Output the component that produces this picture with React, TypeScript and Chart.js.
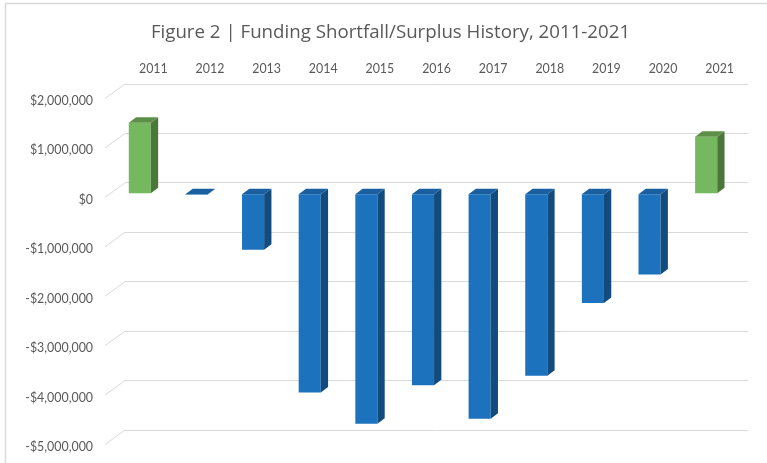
import React, { useEffect, useRef } from "react";
import { Chart, registerables } from "chart.js";

Chart.register(...registerables);

const years = ["2011", "2012", "2013", "2014", "2015", "2016", "2017", "2018", "2019", "2020", "2021"];
const shortfallSurplus = [1440000, -20000, -1130000, -4020000, -4650000, -3870000, -4550000, -3680000, -2210000, -1630000, 1155000];
const titleText = "Figure 2 | Funding Shortfall/Surplus History, 2011-2021";
const yMin = -5000000;
const yMax = 2000000;
const yStep = 1000000;

const GREEN = { front: "#76B85F", side: "#4B783A", top: "#5C8F47" };
const BLUE = { front: "#1C72BD", side: "#124B7E", top: "#1A5FA0" };

const FRONT_DX = -13.5;
const FRONT_DY = 11;
const DEPTH_DX = 7.3;
const DEPTH_DY = -5.5;

function fmtMoney(v: number): string {
  const abs = Math.abs(v).toLocaleString("en-US");
  return (v < 0 ? "-$" : "$") + abs;
}

const threeD = {
  id: "threeD",
  beforeDraw(chart: any) {
    const ctx = chart.ctx;
    ctx.save();
    ctx.strokeStyle = "#D9D9D9";
    ctx.lineWidth = 1.5;
    ctx.beginPath();
    ctx.moveTo(5.5, chart.height);
    ctx.lineTo(5.5, 3.5);
    ctx.lineTo(chart.width, 3.5);
    ctx.stroke();
    ctx.fillStyle = "#595959";
    ctx.font = '18.7px "Open Sans"';
    ctx.textAlign = "center";
    ctx.textBaseline = "alphabetic";
    ctx.fillText(titleText, 390.5, 37.5);
    ctx.restore();
  },
  beforeDatasetsDraw(chart: any) {
    const ctx = chart.ctx;
    const area = chart.chartArea;
    const yScale = chart.scales.y;
    ctx.save();
    ctx.strokeStyle = "#D9D9D9";
    ctx.lineWidth = 1;
    yScale.ticks.forEach((t: any, i: number) => {
      const py = yScale.getPixelForTick(i);
      ctx.beginPath();
      ctx.moveTo(area.left - 20, py + 14.5);
      ctx.lineTo(area.left, py);
      ctx.stroke();
    });
    ctx.restore();
    ctx.save();
    ctx.translate(FRONT_DX, FRONT_DY);
  },
  afterDatasetsDraw(chart: any) {
    const ctx = chart.ctx;
    const meta = chart.getDatasetMeta(0);
    meta.data.forEach((bar: any, i: number) => {
      const v = shortfallSurplus[i];
      const c = v >= 0 ? GREEN : BLUE;
      const w = bar.width;
      const left = bar.x - w / 2;
      const right = bar.x + w / 2;
      const top = Math.min(bar.y, bar.base);
      const bottom = Math.max(bar.y, bar.base);
      ctx.fillStyle = c.side;
      ctx.beginPath();
      ctx.moveTo(right, top);
      ctx.lineTo(right + DEPTH_DX, top + DEPTH_DY);
      ctx.lineTo(right + DEPTH_DX, bottom + DEPTH_DY);
      ctx.lineTo(right, bottom);
      ctx.closePath();
      ctx.fill();
      ctx.fillStyle = c.top;
      ctx.beginPath();
      ctx.moveTo(left, top);
      ctx.lineTo(left + DEPTH_DX, top + DEPTH_DY);
      ctx.lineTo(right + DEPTH_DX, top + DEPTH_DY);
      ctx.lineTo(right, top);
      ctx.closePath();
      ctx.fill();
    });
    ctx.restore();
  },
};

export default function App() {
  const ref = useRef<HTMLCanvasElement | null>(null);
  useEffect(() => {
    if (!ref.current) return;
    const chart = new Chart(ref.current, {
      type: "bar",
      data: {
        labels: years,
        datasets: [
          {
            data: shortfallSurplus,
            backgroundColor: shortfallSurplus.map((v) => (v >= 0 ? GREEN.front : BLUE.front)),
            borderWidth: 0,
            barPercentage: 0.39,
            categoryPercentage: 1,
            clip: false as any,
          },
        ],
      },
      options: {
        responsive: false,
        animation: false,
        devicePixelRatio: 1,
        layout: { padding: { left: 0, right: 19, top: 54, bottom: 33 } },
        plugins: {
          legend: { display: false },
          tooltip: { enabled: false },
          title: { display: false },
        },
        scales: {
          x: {
            position: "top",
            grid: { display: false, drawTicks: false },
            border: { display: false },
            ticks: {
              color: "#595959",
              font: { family: "Lato", size: 12.4 },
              padding: 8,
              maxRotation: 0,
            },
            afterFit: (s: any) => {
              s.height = 30;
            },
          },
          y: {
            min: yMin,
            max: yMax,
            grid: { color: "#D9D9D9", lineWidth: 1, drawTicks: false },
            border: { display: false },
            ticks: {
              stepSize: yStep,
              color: "#595959",
              font: { family: "Lato", size: 12.4 },
              padding: 32,
              labelOffset: 17,
              callback: (v: any) => fmtMoney(Number(v)),
            },
            afterFit: (s: any) => {
              s.width = 125;
              s.paddingTop = 0;
              s.paddingBottom = 0;
            },
          },
        },
      },
      plugins: [threeD],
    });
    return () => chart.destroy();
  }, []);
  return (
    <div style={{ position: "fixed", left: 0, top: 0, width: 767, height: 463, background: "#fff" }}>
      <canvas ref={ref} width={767} height={463} style={{ display: "block" }} />
    </div>
  );
}
